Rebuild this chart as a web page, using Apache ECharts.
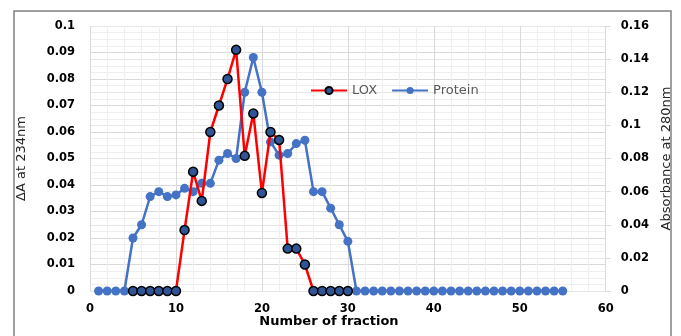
<!DOCTYPE html>
<html>
<head>
<meta charset="utf-8">
<script src="https://cdn.jsdelivr.net/npm/echarts@6/dist/echarts.min.js"></script>
<style>
  html, body { margin: 0; padding: 0; background: #fff; }
  #chart { width: 681px; height: 336px; }
</style>
</head>
<body>
<div id="chart"></div>
<script>
// Fraction numbers and the two measured profiles
const loxFractions = [5, 6, 7, 8, 9, 10, 11, 12, 13, 14, 15, 16, 17, 18, 19, 20, 21, 22, 23, 24, 25, 26, 27, 28, 29, 30];
const loxValues = [0, 0, 0, 0, 0, 0, 0.023, 0.045, 0.034, 0.060, 0.070, 0.080, 0.091, 0.051, 0.067, 0.037, 0.060, 0.057, 0.016, 0.016, 0.010, 0, 0, 0, 0, 0];

const proteinFractions = [1, 2, 3, 4, 5, 6, 7, 8, 9, 10, 11, 12, 13, 14, 15, 16, 17, 18, 19, 20, 21, 22, 23, 24, 25, 26, 27, 28, 29, 30,
  31, 32, 33, 34, 35, 36, 37, 38, 39, 40, 41, 42, 43, 44, 45, 46, 47, 48, 49, 50, 51, 52, 53, 54, 55];
const proteinValues = [0, 0, 0, 0, 0.032, 0.040, 0.057, 0.060, 0.057, 0.058, 0.062, 0.060, 0.065, 0.065, 0.079, 0.083, 0.080, 0.120, 0.141, 0.120,
  0.090, 0.082, 0.083, 0.089, 0.091, 0.060, 0.060, 0.050, 0.040, 0.030,
  0, 0, 0, 0, 0, 0, 0, 0, 0, 0, 0, 0, 0, 0, 0, 0, 0, 0, 0, 0, 0, 0, 0, 0, 0];

const xTitle = 'Number of fraction';
const leftTitle = 'ΔA at 234nm';
const rightTitle = 'Absorbance at 280nm';

const pair = (xs, ys) => xs.map((x, i) => [x, ys[i]]);

const chart = echarts.init(document.getElementById('chart'), null, { renderer: 'canvas' });

const tickFont = { fontFamily: 'DejaVu Sans', fontWeight: 'bold', fontSize: 11.5, color: '#000' };
const majorGrid = { show: true, lineStyle: { color: '#d9d9d9', width: 1 } };
const minorGrid = { show: true, lineStyle: { color: '#efefef', width: 1 } };

chart.setOption({
  backgroundColor: '#fff',
  animation: false,
  grid: { left: 90, right: 71, top: 26, bottom: 45 },
  legend: {
    data: ['LOX', 'Protein'],
    left: 305,
    top: 79,
    itemWidth: 36,
    itemHeight: 9,
    itemGap: 14,
    textStyle: { fontFamily: 'DejaVu Sans', fontSize: 13, color: '#595959' }
  },
  xAxis: {
    type: 'value',
    min: 0,
    max: 60,
    interval: 10,
    axisLine: { show: false },
    axisTick: { show: false },
    axisLabel: Object.assign({ margin: 12 }, tickFont),
    splitLine: majorGrid,
    minorTick: { show: false, splitNumber: 5 },
    minorSplitLine: minorGrid
  },
  yAxis: [
    {
      type: 'value',
      min: 0,
      max: 0.1,
      interval: 0.01,
      position: 'left',
      name: leftTitle,
      nameLocation: 'middle',
      nameGap: 62,
      nameTextStyle: { fontFamily: 'DejaVu Sans', fontSize: 13, color: '#262626' },
      axisLine: { show: false },
      axisTick: { show: false },
      axisLabel: Object.assign({ margin: 15 }, tickFont),
      splitLine: majorGrid,
      minorTick: { show: false, splitNumber: 4 },
      minorSplitLine: minorGrid
    },
    {
      type: 'value',
      min: 0,
      max: 0.16,
      interval: 0.02,
      position: 'right',
      name: rightTitle,
      nameLocation: 'middle',
      nameGap: 53,
      nameRotate: 90,
      nameTextStyle: { fontFamily: 'DejaVu Sans', fontSize: 13, color: '#262626' },
      axisLine: { show: false },
      axisTick: { show: true, length: 5, lineStyle: { color: '#d9d9d9' } },
      axisLabel: Object.assign({ margin: 15 }, tickFont),
      splitLine: { show: true, lineStyle: { color: '#e6e6e6', width: 1 } }
    }
  ],
  graphic: [
    {
      type: 'rect',
      silent: true,
      shape: { x: 14, y: 11, width: 657, height: 340 },
      style: { fill: 'none', stroke: '#808080', lineWidth: 1.5 }
    },
    {
      type: 'text',
      x: 329,
      y: 322,
      style: {
        text: xTitle,
        fontFamily: 'DejaVu Sans',
        fontWeight: 'bold',
        fontSize: 13,
        fill: '#000',
        align: 'center',
        verticalAlign: 'middle'
      }
    }
  ],
  series: [
    {
      name: 'Protein',
      type: 'line',
      yAxisIndex: 1,
      data: pair(proteinFractions, proteinValues),
      symbol: 'circle',
      symbolSize: 9,
      lineStyle: { color: '#4472C4', width: 2.5 },
      itemStyle: { color: '#4472C4' },
      z: 2
    },
    {
      name: 'LOX',
      type: 'line',
      yAxisIndex: 0,
      data: pair(loxFractions, loxValues),
      symbol: 'circle',
      symbolSize: 9,
      lineStyle: { color: '#ff0000', width: 2.5 },
      itemStyle: { color: '#2F5597', borderColor: '#000', borderWidth: 1.5 },
      z: 3
    }
  ]
});
</script>
</body>
</html>
